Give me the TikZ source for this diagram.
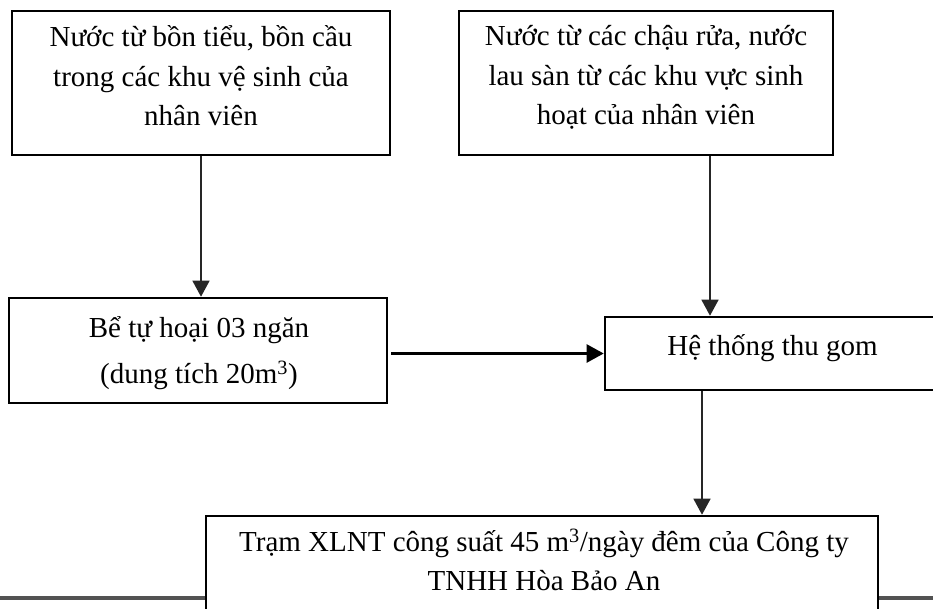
\documentclass[tikz,border=0pt]{standalone}
\usepackage{fontspec}
\setmainfont{Liberation Serif}
\usetikzlibrary{arrows.meta}
\tikzset{
  box/.style={draw=black, line width=2.6pt, fill=white, inner sep=0pt},
  txt/.style={inner sep=0pt, align=center, font=\fontsize{29}{39.5}\selectfont},
  flow/.style={line width=1.4pt, draw=black!85, -{Triangle[width=17pt,length=16pt]}},
  flowthick/.style={line width=2.4pt, draw=black, -{Triangle[width=18pt,length=17pt]}},
}
\begin{document}
\begin{tikzpicture}[x=1pt, y=-1pt]
\useasboundingbox (0,0) rectangle (933,609);
\clip (0,0) rectangle (933,609);
\fill[white] (0,0) rectangle (933,609);
% gray rule at bottom
\draw[line width=4.5pt, draw=black!68] (0,598) -- (933,598);

\node[box, minimum width=378pt, minimum height=144pt] (b1) at (201,83) {};
\node[box, minimum width=374pt, minimum height=144pt] (b2) at (646,83) {};
\node[box, minimum width=378pt, minimum height=105pt] (b3) at (198,350.5) {};
\node[box, minimum width=335pt, minimum height=73pt] (b4) at (772.5,353.5) {};
\node[box, minimum width=672pt, minimum height=124pt] (b5) at (542,578) {};

\node[txt] (t1) at (201,76) {Nước từ bồn tiểu, bồn cầu\\trong các khu vệ sinh của\\nhân viên};
\node[txt] (t2) at (646,77.5) {Nước từ các chậu rửa, nước\\lau sàn từ các khu vực sinh\\hoạt của nhân viên};
\node[txt, font=\fontsize{29}{46}\selectfont] (t3) at (199,353) {Bể tự hoại 03 ngăn\\(dung tích 20m\textsuperscript{3})};
\node[txt, anchor=base] (t4) at (772.5,355) {Hệ thống thu gom};
\node[txt] (t5) at (544,560) {Trạm XLNT công suất 45 m\textsuperscript{3}/ngày đêm của Công ty\\TNHH Hòa Bảo An};

\coordinate (c2) at ([xshift=64pt]b2.south);
\coordinate (c4) at ([xshift=-70.5pt]b4.south);
\draw[flow] (b1.south) -- (b1.south |- b3.north);
\draw[flow] (c2) -- (c2 |- b4.north);
\draw[flowthick] ([xshift=3pt]b3.east |- b4.west) -- (b4.west);
\draw[flow] (c4) -- (c4 |- b5.north);
\end{tikzpicture}
\end{document}
